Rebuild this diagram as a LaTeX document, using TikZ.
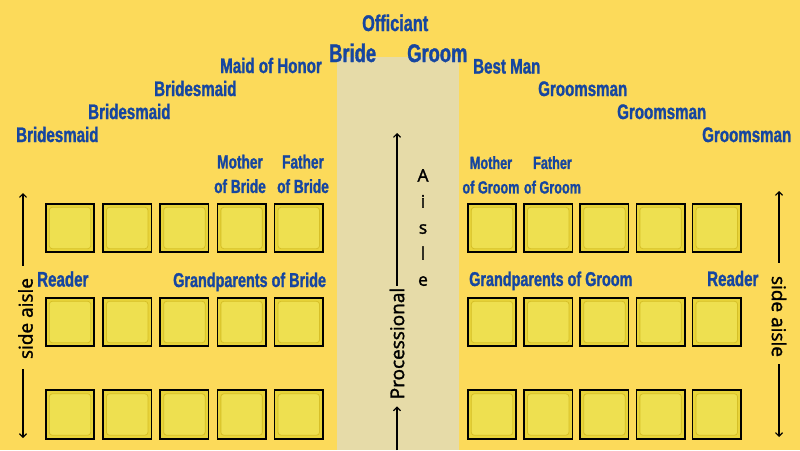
\documentclass[tikz,border=0pt]{standalone}
\usepackage{fontspec}
\usetikzlibrary{arrows.meta}
\newfontfamily\lblfont{Liberation Sans}[FakeStretch=0.72,FakeBold=1.2]
\newfontfamily\osfont{Open Sans}[FakeBold=1.6]
\definecolor{bg}{RGB}{252,218,90}
\definecolor{aislec}{RGB}{230,219,168}
\definecolor{lblue}{RGB}{22,70,160}
\definecolor{seatout}{RGB}{232,212,58}
\definecolor{seatin}{RGB}{238,224,80}
\definecolor{seatedge}{RGB}{214,192,40}
\tikzset{
  lbl/.style={font=\lblfont\bfseries\fontsize{#1}{#1}\selectfont, text=lblue, inner sep=0pt, anchor=base west},
  lbl/.default=21,
  twolbl/.style={font=\lblfont\bfseries\fontsize{#1}{24.5}\selectfont, text=lblue, inner sep=0pt, anchor=north, align=center},
  twolbl/.default=19,
  seatbox/.style={draw=black, line width=1.6pt, fill=seatout, minimum size=48.5pt, inner sep=0pt,
    path picture={\filldraw[fill=seatin, draw=seatedge, line width=0.8pt, rounded corners=3pt]
      ([shift={(3.5pt,3.5pt)}]path picture bounding box.south west) rectangle
      ([shift={(-3.5pt,-3.5pt)}]path picture bounding box.north east);}},
  note/.style={font=\osfont\fontsize{#1}{#1}\selectfont, text=black, inner sep=0pt},
  note/.default=19,
  arr/.style={-{Straight Barb[length=3.5pt,width=7pt]}, line width=1.2pt},
}
\begin{document}
\begin{tikzpicture}[x=1pt,y=-1pt]
\useasboundingbox (0,0) rectangle (800,450);
\fill[bg] (0,0) rectangle (800,450);
\fill[aislec] (337,57) rectangle (459,450);

% top party
\node[lbl=22.6] (officiant) at (362,31) {Officiant};
\node[lbl=25.5] (bride) at (329,62) {Bride};
\node[lbl=25.5] (groom) at (407,62) {Groom};
\node[lbl] (moh) at (220,73) {Maid of Honor};
\node[lbl] (bm1) at (154,96) {Bridesmaid};
\node[lbl] (bm2) at (88,119) {Bridesmaid};
\node[lbl] (bm3) at (16,142) {Bridesmaid};
\node[lbl] (best) at (473,73.5) {Best Man};
\node[lbl] (gm1) at (538,96) {Groomsman};
\node[lbl] (gm2) at (617,119) {Groomsman};
\node[lbl] (gm3) at (702,142) {Groomsman};

% parents
\node[twolbl] (mob) at (240,154.5) {Mother\\of Bride};
\node[twolbl] (fob) at (303,154.5) {Father\\of Bride};
\node[twolbl=17.6] (mog) at (491,156) {Mother\\of Groom};
\node[twolbl=17.6] (fog) at (552.5,156) {Father\\of Groom};

% second row labels
\node[lbl] (readerL) at (37,286.5) {Reader};
\node[lbl=20] (gpb) at (173,287) {Grandparents of Bride};
\node[lbl=20] (gpg) at (469,286) {Grandparents of Groom};
\node[lbl] (readerR) at (707,286) {Reader};

% seats
\foreach \r/\y in {1/228,2/322,3/414.5} {
  \foreach \i in {1,...,5} {
    \pgfmathsetmacro\xl{70+57.2*(\i-1)}
    \pgfmathsetmacro\xr{492+56.2*(\i-1)}
    \node[seatbox] (L\r\i) at (\xl,\y) {};
    \node[seatbox] (R\r\i) at (\xr,\y) {};
  }
}

% centre aisle
\node[align=center, anchor=north, inner sep=0pt, font=\osfont\fontsize{17.5}{26}\selectfont] (aislelbl) at (423,169) {A\\i\\s\\l\\e};
\node[note, rotate=90] (proc) at (397,343.5) {Processional};
\coordinate (ptop) at (397,133);
\coordinate (pbot) at (397,450);
\draw[arr, shorten <=2pt] (ptop |- proc.east) -- (ptop);
\draw[arr, shorten >=7pt] (pbot) -- (pbot |- proc.west);

% side aisles
\node[note, rotate=90] (sideL) at (25.5,318.5) {side aisle};
\coordinate (sLtop) at (23,193);
\coordinate (sLbot) at (23,438);
\draw[arr, shorten <=12pt] (sLtop |- sideL.east) -- (sLtop);
\draw[arr, shorten <=10pt] (sLbot |- sideL.west) -- (sLbot);

\node[note, rotate=-90] (sideR) at (779,316.5) {side aisle};
\coordinate (sRtop) at (779,191);
\coordinate (sRbot) at (779,437);
\draw[arr, shorten <=13pt] (sRtop |- sideR.west) -- (sRtop);
\draw[arr, shorten <=7pt] (sRbot |- sideR.east) -- (sRbot);
\end{tikzpicture}
\end{document}
